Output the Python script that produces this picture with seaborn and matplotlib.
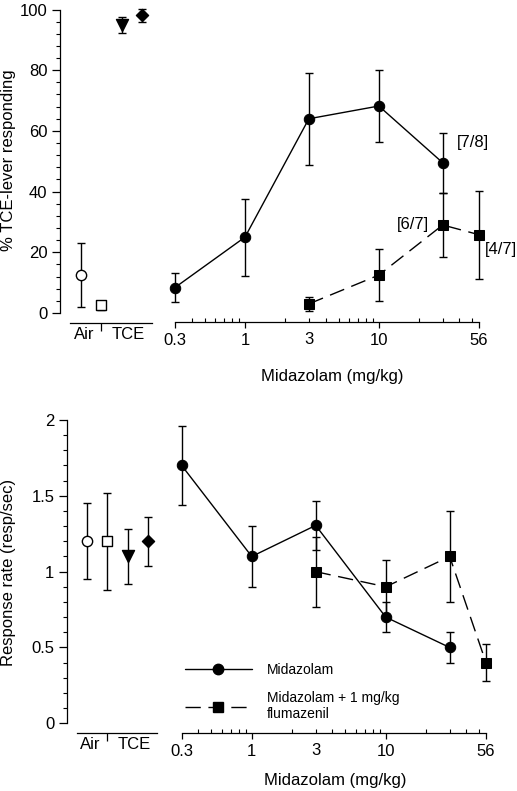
import numpy as np
import pandas as pd
import matplotlib
matplotlib.use("Agg")
import matplotlib.pyplot as plt
from matplotlib.lines import Line2D
import seaborn as sns

# ---------------- data ----------------
ctrl_names = ["Air-circle", "Air-square", "TCE-triangle", "TCE-diamond"]
ctrl_pos = [1, 2, 3, 4]
ctrl_group_labels = ["Air", "TCE"]

top_ctrl_mean = [12.5, 2.6, 95.0, 98.1]
top_ctrl_err = [10.5, 1.5, 2.6, 2.1]
bot_ctrl_mean = [1.20, 1.20, 1.10, 1.20]
bot_ctrl_err = [0.25, 0.32, 0.18, 0.16]

mid_doses = [0.3, 1, 3, 10, 30]
top_mid = [8.4, 25.0, 64.0, 68.2, 49.5]
top_mid_err = [4.9, 12.7, 15.2, 11.9, 9.8]
bot_mid = [1.70, 1.10, 1.305, 0.70, 0.50]
bot_mid_err = [0.26, 0.20, 0.16, 0.10, 0.10]

flu_doses = [3, 10, 30, 56]
top_flu = [3.0, 12.5, 29.0, 25.8]
top_flu_err = [2.3, 8.6, 10.6, 14.5]
bot_flu = [1.00, 0.90, 1.10, 0.40]
bot_flu_err = [0.23, 0.18, 0.30, 0.12]

dose_ticks = [0.3, 1, 10, 56]
dose_ticklabels = ["0.3", "1", "10", "56"]
dose_minor = [0.4, 0.5, 0.6, 0.7, 0.8, 0.9, 2, 3, 4, 5, 6, 7, 8, 9, 20, 30, 40, 50]
dose_minor_labels = ["" if v != 3 else "3" for v in dose_minor]

annot_top = ["[7/8]", "[6/7]", "[4/7]"]

# ---------------- style ----------------
sns.set_theme(style="ticks")
plt.rcParams["font.family"] = ["Liberation Sans", "DejaVu Sans"]
plt.rcParams["axes.linewidth"] = 0.9
plt.rcParams["xtick.major.width"] = 0.9
plt.rcParams["ytick.major.width"] = 0.9
plt.rcParams["xtick.minor.width"] = 0.8
plt.rcParams["ytick.minor.width"] = 0.8
plt.rcParams["axes.edgecolor"] = "black"
plt.rcParams["xtick.color"] = "black"
plt.rcParams["ytick.color"] = "black"
plt.rcParams["text.color"] = "black"

W, H = 517, 791
fig = plt.figure(figsize=(W / 100, H / 100), dpi=100)
fig.patch.set_facecolor("white")


def px_axes(x0, y0, x1, y1):
    return fig.add_axes([x0 / W, (H - y1) / H, (x1 - x0) / W, (y1 - y0) / H])


FS = 12
K = "black"
ctrl_face = {"Air-circle": "white", "Air-square": "white",
             "TCE-triangle": "black", "TCE-diamond": "black"}
ctrl_mark = {"Air-circle": "o", "Air-square": "s",
             "TCE-triangle": "v", "TCE-diamond": "D"}


def ctrl_panel(ax, mean, err, ylim, spine_lo, xlim):
    ax.errorbar(ctrl_pos, mean, yerr=err, fmt="none", ecolor=K,
                elinewidth=1.0, capsize=3.2, capthick=1.0, clip_on=False, zorder=2)
    df = pd.DataFrame({"x": ctrl_pos, "y": mean, "name": ctrl_names})
    for nm in ctrl_names:
        sub = df[df["name"] == nm]
        sns.scatterplot(data=sub, x="x", y="y", ax=ax, marker=ctrl_mark[nm],
                        color=ctrl_face[nm], edgecolor=K, linewidth=1.0,
                        s={"o": 55, "s": 60, "v": 75, "D": 38}[ctrl_mark[nm]],
                        legend=False, clip_on=False, zorder=3)
    ax.set_xlim(*xlim)
    ax.set_ylim(*ylim)
    ax.set_facecolor("white")
    for s in ["top", "right"]:
        ax.spines[s].set_visible(False)
    ax.spines["bottom"].set_position(("outward", 7.2))
    ax.spines["bottom"].set_bounds(spine_lo, xlim[1])
    ax.set_xticks([2])
    ax.set_xticklabels([""])
    ax.set_xticks([1.17, 3.3], minor=True)
    ax.set_xticklabels(ctrl_group_labels, minor=True)
    ax.tick_params(axis="x", which="major", direction="out", length=6)
    ax.tick_params(axis="x", which="minor", length=0, labelsize=FS, pad=3)
    ax.tick_params(axis="y", which="major", direction="out", length=6,
                   labelsize=FS, pad=3)
    ax.tick_params(axis="y", which="minor", direction="out", length=3)
    ax.set_xlabel("")
    ax.set_ylabel("")


def dose_panel(ax, mid, mid_err, flu, flu_err, ylim, outward):
    ax.errorbar(mid_doses, mid, yerr=mid_err, fmt="none", ecolor=K,
                elinewidth=1.0, capsize=3.2, capthick=1.0, clip_on=False, zorder=2)
    ax.errorbar(flu_doses, flu, yerr=flu_err, fmt="none", ecolor=K,
                elinewidth=1.0, capsize=3.2, capthick=1.0, clip_on=False, zorder=2)
    sns.lineplot(x=mid_doses, y=mid, ax=ax, color=K, marker="o", markersize=7.5,
                 markeredgecolor=K, markerfacecolor=K, linewidth=1.0,
                 clip_on=False, zorder=3)
    sns.lineplot(x=flu_doses, y=flu, ax=ax, color=K, marker="s", markersize=7.5,
                 markeredgecolor=K, markerfacecolor=K, linewidth=1.0,
                 linestyle=(0, (11, 5.5)), clip_on=False, zorder=3)
    ax.set_xscale("log")
    ax.set_xlim(0.3, 56)
    ax.set_ylim(*ylim)
    ax.set_facecolor("none")
    for s in ["top", "right", "left"]:
        ax.spines[s].set_visible(False)
    ax.spines["bottom"].set_position(("outward", outward))
    ax.set_yticks([])
    ax.set_xticks(dose_ticks)
    ax.set_xticklabels(dose_ticklabels)
    ax.set_xticks(dose_minor, minor=True)
    ax.set_xticklabels(dose_minor_labels, minor=True)
    ax.tick_params(axis="x", which="major", direction="out", length=4,
                   labelsize=FS, pad=4)
    ax.tick_params(axis="x", which="minor", direction="in", length=3,
                   labelsize=FS, pad=7)
    ax.set_xlabel("")
    ax.set_ylabel("")


# ---------------- top panels ----------------
sp = 20.33
ax1 = px_axes(60, 9.5, 152, 313)
ctrl_panel(ax1, top_ctrl_mean, top_ctrl_err, (0, 100),
           1 - 11 / sp, (1 - 21 / sp, 4 + 10 / sp))
ax1.set_yticks([0, 20, 40, 60, 80, 100])
ax1.set_yticks(np.arange(0, 101, 4), minor=True)

ax2 = px_axes(175, 9.5, 479, 313)
dose_panel(ax2, top_mid, top_mid_err, top_flu, top_flu_err, (0, 100), 6.5)
ax2.annotate(annot_top[0], (mid_doses[4], top_mid[4]), xytext=(14, 20),
             textcoords="offset pixels", ha="left", va="center", fontsize=FS)
ax2.annotate(annot_top[1], (flu_doses[2], top_flu[2]), xytext=(-14, 0),
             textcoords="offset pixels", ha="right", va="center", fontsize=FS)
ax2.annotate(annot_top[2], (flu_doses[3], top_flu[3]), xytext=(6, -15),
             textcoords="offset pixels", ha="left", va="center", fontsize=FS)

# ---------------- bottom panels ----------------
ax3 = px_axes(67, 420, 157, 723.3)
ctrl_panel(ax3, bot_ctrl_mean, bot_ctrl_err, (0, 2),
           1 - 10 / sp, (1 - 20 / sp, 4 + 9 / sp))
ax3.set_yticks([0, 0.5, 1, 1.5, 2])
ax3.set_yticklabels(["0", "0.5", "1", "1.5", "2"])
ax3.set_yticks(np.arange(0, 2.01, 0.1), minor=True)

ax4 = px_axes(181.7, 420, 486, 723.3)
dose_panel(ax4, bot_mid, bot_mid_err, bot_flu, bot_flu_err, (0, 2), 7.2)

handles = [
    Line2D([], [], color=K, marker="o", markersize=7.5, linewidth=1.0),
    Line2D([], [], color=K, marker="s", markersize=7.5, linewidth=1.0,
           linestyle=(0, (11, 5.5))),
]
leg = ax4.legend(handles, ["Midazolam", "Midazolam + 1 mg/kg\nflumazenil"],
                 loc="upper left", bbox_to_anchor=(185 / W, (H - 663) / H),
                 bbox_transform=fig.transFigure, frameon=False, fontsize=10,
                 handlelength=4.8, handletextpad=1.1, labelspacing=1.0,
                 borderpad=0, borderaxespad=0)

# ---------------- labels ----------------
fig.text(332 / W, 1 - 377 / H, "Midazolam (mg/kg)", ha="center", va="center",
         fontsize=FS)
fig.text(335 / W, 1 - 780 / H, "Midazolam (mg/kg)", ha="center", va="center",
         fontsize=FS)
fig.text(9 / W, 1 - 160 / H, "% TCE-lever responding", ha="center", va="center",
         rotation=90, fontsize=FS)
fig.text(9 / W, 1 - 572 / H, "Response rate (resp/sec)", ha="center",
         va="center", rotation=90, fontsize=FS)

fig.savefig("out.png", dpi=100, facecolor="white")
